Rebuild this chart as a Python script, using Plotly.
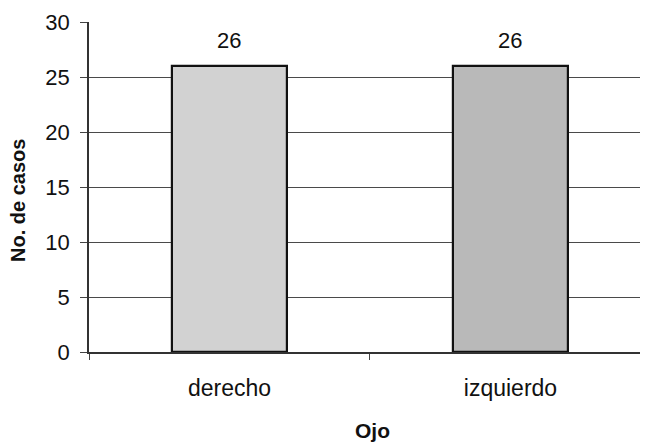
import plotly.graph_objects as go

categories = ["derecho", "izquierdo"]
values = [26, 26]
bar_colors = ["#d2d2d2", "#b9b9b9"]
y_ticks = [0, 5, 10, 15, 20, 25, 30]

FONT = "Liberation Sans, Arial"

fig = go.Figure()
fig.add_trace(go.Bar(
    x=categories, y=values, width=0.41,
    marker=dict(color=bar_colors, line=dict(color="#111111", width=2.2)),
))
for c, v in zip(categories, values):
    fig.add_annotation(x=c, y=v, text=str(v), showarrow=False,
                       yanchor="bottom", yshift=11,
                       font=dict(family=FONT, size=22, color="#111111"))

# y-axis title placed as annotation (slightly below plot centre as in reference)
fig.add_annotation(xref="paper", yref="paper", x=0, y=0.4576, xshift=-71,
                   text="<b>No. de casos</b>", textangle=-90, showarrow=False,
                   xanchor="center", yanchor="middle",
                   font=dict(family=FONT, size=20, color="#111111"))

# body has an 8px default margin in the page, so offsets compensate for it
fig.update_layout(
    width=648, height=444,
    margin=dict(l=81, r=0, t=14, b=100),
    paper_bgcolor="white", plot_bgcolor="white",
    showlegend=False,
    font=dict(family=FONT, color="#111111"),
    xaxis=dict(
        range=[-0.5, 1.518], tickson="boundaries", ticks="outside", ticklen=6,
        tickcolor="#444444", showline=True, linecolor="#333333", linewidth=1.5,
        tickfont=dict(size=23), ticklabelstandoff=15, automargin=False,
        title=dict(text="<b>Ojo</b>", font=dict(size=21), standoff=23),
        showgrid=False,
    ),
    yaxis=dict(
        range=[0, 30], tickvals=y_ticks, ticks="outside", ticklen=7,
        tickcolor="#444444", showline=True, linecolor="#333333", linewidth=1.5,
        showgrid=True, gridcolor="#4a4a4a", gridwidth=1,
        tickfont=dict(size=22), ticklabelstandoff=6, automargin=False,
        zeroline=False,
    ),
    bargap=0,
)

fig.write_html("out.html")
